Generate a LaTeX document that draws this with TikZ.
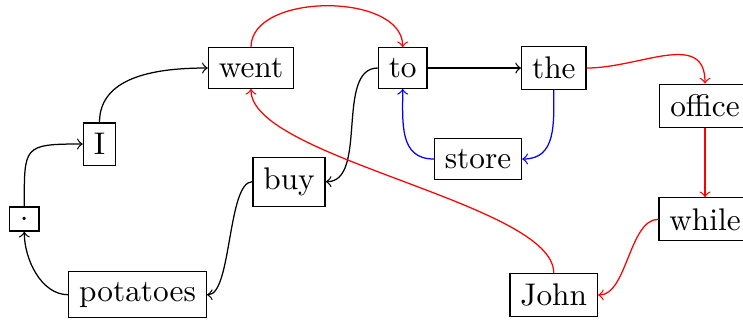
\documentclass[tikz,border=0pt]{standalone}
\begin{document}
\begin{tikzpicture}[x=1pt,y=1pt,
  word/.style={draw},
  link/.style={->},
  rlink/.style={->,red},
  blink/.style={->,blue}]
\useasboundingbox (0,0) rectangle (237.39,-102.24);
% words
\node[word] (dot)  at (7.76,-69.97)  {.};
\node[word] (I)    at (31.79,-46.01) {I};
\node[word] (went) at (80.19,-21.73) {went};
\node[word] (to)   at (128.66,-21.73) {to};
\node[word] (the)  at (176.94,-21.73) {the};
\node[word] (office) at (225.25,-33.80) {office};
\node[word] (store) at (152.72,-50.80) {store};
\node[word] (buy)  at (92.34,-58.05) {buy};
\node[word] (while) at (225.25,-70.07) {while};
\node[word] (John) at (176.91,-94.25) {John};
\node[word] (potatoes) at (43.93,-94.16) {potatoes};
% black links
\draw[link] (potatoes.west) to[out=180,in=-90,looseness=0.9] (dot.south);
\draw[link] (dot.north) to[out=90,in=180,looseness=1.8] (I.west);
\draw[link] (I.north) to[out=90,in=180] (went.west);
\draw[link] (to.east) -- (the.west);
\draw[link] (to.west) to[out=180,in=0,looseness=0.87] (buy.east);
\draw[link] (buy.west) to[out=180,in=0,looseness=0.52] (potatoes.east);
% red links
\draw[rlink] (went.north) to[out=90,in=90,looseness=0.93] (to.north);
\draw[rlink] (the.east) to[out=0,in=90,looseness=1.15] (office.north);
\draw[rlink] (office.south) -- (while.north);
\draw[rlink] (while.west) to[out=180,in=0,looseness=0.77] (John.east);
\draw[rlink] (John.north) to[out=90,in=-90,looseness=0.5] (went.south);
% blue links
\draw[blink] (the.south) to[out=-90,in=0,looseness=1.15] (store.east);
\draw[blink] (store.west) to[out=180,in=-90,looseness=1.15] (to.south);
\end{tikzpicture}
\end{document}
